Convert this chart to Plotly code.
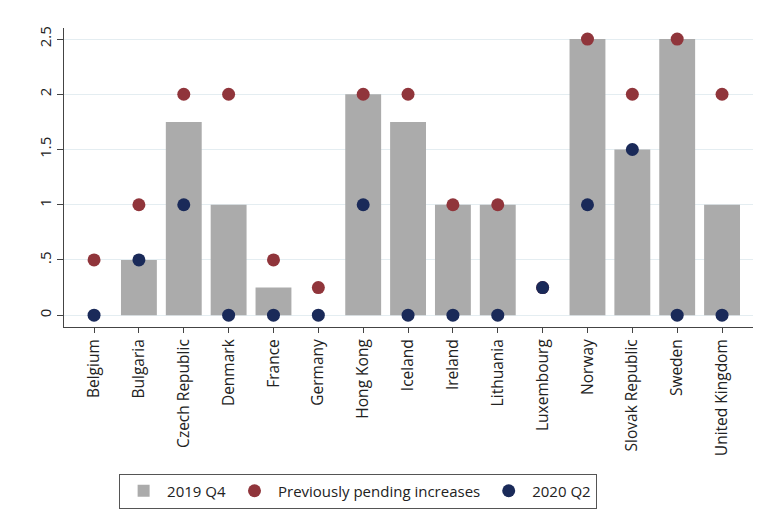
import plotly.graph_objects as go

countries = ["Belgium", "Bulgaria", "Czech Republic", "Denmark", "France", "Germany",
             "Hong Kong", "Iceland", "Ireland", "Lithuania", "Luxembourg", "Norway",
             "Slovak Republic", "Sweden", "United Kingdom"]
q4_2019 = [0, 0.5, 1.75, 1, 0.25, 0, 2, 1.75, 1, 1, 0, 2.5, 1.5, 2.5, 1]
previously_pending = [0.5, 1, 2, 2, 0.5, 0.25, 2, 2, 1, 1, 0.25, 2.5, 2, 2.5, 2]
q2_2020 = [0, 0.5, 1, 0, 0, 0, 1, 0, 0, 0, 0.25, 1, 1.5, 0, 0]
ytick_vals = [0, 0.5, 1, 1.5, 2, 2.5]
ytick_text = ["0", ".5", "1", "1.5", "2", "2.5"]

FONT = "Open Sans"
fig = go.Figure()
fig.add_trace(go.Bar(x=countries, y=q4_2019, name="2019 Q4",
                     marker=dict(color="#ababab", line=dict(width=0)), width=0.8))
fig.add_trace(go.Scatter(x=countries, y=previously_pending, mode="markers",
                         name="Previously pending increases",
                         marker=dict(color="#90353b", size=13, line=dict(width=0))))
fig.add_trace(go.Scatter(x=countries, y=q2_2020, mode="markers", name="2020 Q2",
                         marker=dict(color="#1a2a59", size=13, line=dict(width=0))))

fig.update_layout(
    width=767, height=521,
    margin=dict(l=64, r=14, t=28, b=191),
    paper_bgcolor="white", plot_bgcolor="white",
    font=dict(family=FONT, size=15, color="#222"),
    showlegend=True,
    legend=dict(orientation="h", x=0.08, y=-0.49, xanchor="left", yanchor="top",
                bordercolor="#555", borderwidth=1, font=dict(size=15, family=FONT),
                itemwidth=37, traceorder="normal", bgcolor="white"),
    xaxis=dict(range=[-0.67, 14.69], tickangle=-90, ticks="outside", ticklen=5,
               tickcolor="#444", showline=True, linecolor="#444", linewidth=1,
               showgrid=False, zeroline=False, tickfont=dict(size=15.5),
               automargin=False),
    yaxis=dict(range=[-0.107, 2.6], tickvals=ytick_vals, ticktext=ytick_text,
               tickangle=-90, ticks="outside", ticklen=6, tickcolor="#444",
               showline=True, linecolor="#444", linewidth=1,
               showgrid=True, gridcolor="#e4edf1", gridwidth=1, zeroline=False,
               tickfont=dict(size=15), automargin=False),
)
fig.write_html("out.html")
